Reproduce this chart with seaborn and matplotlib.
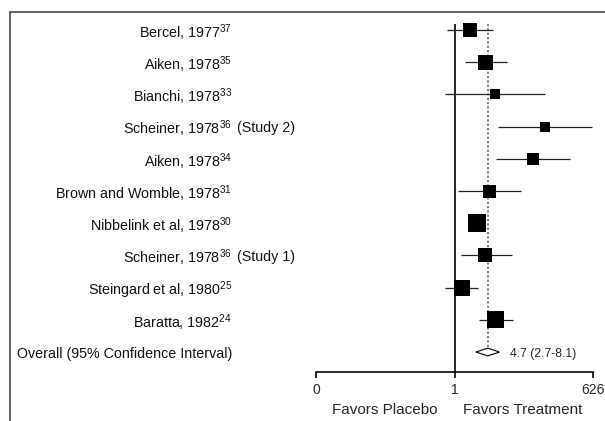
import numpy as np
import pandas as pd
import matplotlib
matplotlib.use("Agg")
import matplotlib.pyplot as plt
import matplotlib.transforms as mtransforms
from matplotlib.patches import Polygon
import seaborn as sns

# forest plot data (odds ratios)
authors = ["Bercel, 1977", "Aiken, 1978", "Bianchi, 1978", "Scheiner, 1978", "Aiken, 1978",
           "Brown and Womble, 1978", "Nibbelink et al, 1978", "Scheiner, 1978",
           "Steingard et al, 1980", "Baratta, 1982"]
refs = ["37", "35", "33", "36", "34", "31", "30", "36", "25", "24"]
suffix = ["", "", "", "(Study 2)", "", "", "", "(Study 1)", "", ""]
odds = [2.1, 4.3, 6.7, 68, 39, 5.1, 2.85, 4.2, 1.4, 6.8]
ci_lo = [0.69, 1.6, 0.64, 7.4, 7.0, 1.15, 2.0, 1.35, 0.63, 3.1]
ci_hi = [6.1, 11.5, 68, 600, 216, 22, 4.0, 14.2, 3.0, 15.4]
box_px = [14, 15, 10, 10, 12, 13, 18, 14, 16, 17]   # square widths

overall_or = 4.7
overall_lo = 2.7
overall_hi = 8.1
overall_label = "Overall (95% Confidence Interval)"

xmax = 626
tick_vals = [1 / xmax, 1, xmax]
tick_labels = ["0", "1", "626"]

sns.set_theme(style="white")
plt.rcParams["font.family"] = ["Liberation Sans", "DejaVu Sans"]
plt.rcParams["mathtext.fontset"] = "custom"
plt.rcParams["mathtext.rm"] = "Liberation Sans"
plt.rcParams["mathtext.default"] = "regular"

df = pd.DataFrame({"row": np.arange(len(authors)), "odds": odds, "lo": ci_lo, "hi": ci_hi,
                   "area": [(w * 0.72) ** 2 for w in box_px]})

W, H = 605, 421
fig = plt.figure(figsize=(W / 100, H / 100), dpi=100)
ax = fig.add_axes([316 / W, (H - 372) / H, (593 - 316) / W, (372 - 12) / H])

ax.set_xscale("log")
ax.set_xlim(1 / xmax, xmax)
ax.set_ylim(10.62, -0.56)

# reference lines
ax.vlines(1, -0.19, 10.62, color="black", lw=1.2)
ax.vlines(overall_or, -0.19, 10, color="#777777", lw=1.3, linestyles=(0, (1.2, 1.2)))

# confidence intervals and study squares
ax.hlines(df["row"], df["lo"], df["hi"], color="#222222", lw=0.9)
sns.scatterplot(data=df, x="odds", y="row", s=df["area"], marker="s", color="black",
                edgecolor="none", ax=ax, legend=False, zorder=3)

# overall diamond
yo = len(authors)
dh = 0.12
diamond = Polygon([(overall_lo, yo), (overall_or, yo - dh), (overall_hi, yo), (overall_or, yo + dh)],
                  closed=True, facecolor="white", edgecolor="black", lw=0.8, zorder=3)
ax.add_patch(diamond)
ax.text(overall_hi * 1.65, yo, f"{overall_or} ({overall_lo}-{overall_hi})", fontsize=8.8,
        va="center_baseline", ha="left")

for s in ["top", "right", "left"]:
    ax.spines[s].set_visible(False)
ax.spines["bottom"].set_color("black")
ax.spines["bottom"].set_linewidth(1.2)
ax.set_xticks(tick_vals)
ax.set_xticklabels(tick_labels, fontsize=10)
ax.minorticks_off()
ax.tick_params(axis="x", direction="out", length=4, width=1.2, color="black", pad=4, bottom=True)
ax.set_yticks([])
ax.set_xlabel("")
ax.set_ylabel("")

# study labels
fs = 10.3
tr = mtransforms.blended_transform_factory(fig.transFigure, ax.transData)
for i in range(len(authors)):
    ax.text(232 / W, i, f"{authors[i]}$^{{{refs[i]}}}$", transform=tr, ha="right",
            va="center_baseline", fontsize=fs, color="#111111")
    if suffix[i]:
        ax.text(237 / W, i, suffix[i], transform=tr, ha="left", va="center_baseline",
                fontsize=fs, color="#111111")
ax.text(232 / W, yo, overall_label, transform=tr, ha="right", va="center_baseline",
        fontsize=fs, color="#111111")

fig.text(385 / W, (H - 410) / H, "Favors Placebo", ha="center", va="center", fontsize=11)
fig.text(523 / W, (H - 410) / H, "Favors Treatment", ha="center", va="center", fontsize=11)

# frame lines (top and left)
fig.add_artist(plt.Line2D([10 / W, 1], [(H - 12) / H, (H - 12) / H], color="#444444", lw=1.2))
fig.add_artist(plt.Line2D([10 / W, 10 / W], [0, (H - 12) / H], color="#444444", lw=1.2))

fig.savefig("out.png", dpi=100)
